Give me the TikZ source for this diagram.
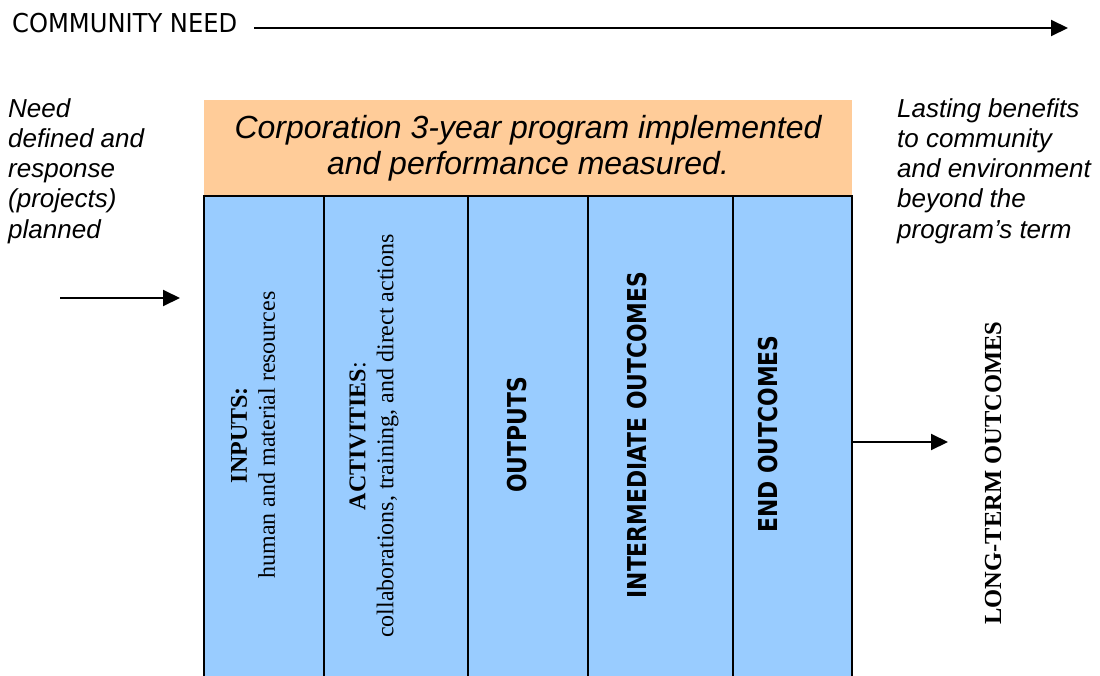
\documentclass[tikz,border=0pt]{standalone}
\usepackage{fontspec}
\setmainfont{Liberation Serif}
\setsansfont{Liberation Sans}
\newfontfamily\tahoma[FakeStretch=0.93]{DejaVu Sans}
\newfontfamily\tahomab[FakeStretch=0.84,BoldFont={DejaVu Sans Bold}]{DejaVu Sans}
\usetikzlibrary{arrows.meta}
\definecolor{hdrorange}{HTML}{FFCC99}
\definecolor{colblue}{HTML}{99CCFF}

\begin{document}
\begin{tikzpicture}[x=1pt,y=-1pt,
    col/.style={draw=black,line width=2pt,fill=colblue,minimum height=490,inner sep=0,outer sep=0,anchor=north west},
    coltxt/.style={rotate=90,align=center,inner sep=0,font=\fontsize{24}{28}\selectfont},
    boldtxt/.style={rotate=90,inner sep=0,font=\tahomab\bfseries\fontsize{26}{30}\selectfont},
    side/.style={anchor=north west,align=left,inner sep=0,font=\sffamily\itshape\fontsize{26}{30.3}\selectfont},
    arr/.style={line width=2pt,-{Triangle[length=17pt,width=16pt]}}]
        \path[use as bounding box] (0,0) rectangle (1100,675);

        \node [anchor=base west,inner sep=0,font=\tahoma\fontsize{26}{30}\selectfont] (need) at (12,32) {COMMUNITY NEED};
        \coordinate (needend) at (1068,28);
        \draw[arr] ([shift={(17,-4)}]need.base east) -- (needend);

        \node [fill=hdrorange,minimum width=648,minimum height=96,inner sep=0,outer sep=0,align=center,
               font=\sffamily\itshape\fontsize{32}{36}\selectfont] (prog) at (528,148)
               {Corporation 3-year program implemented\\and performance measured.};

        \node [col,minimum width=120] (inputs) at (204,196) {};
        \node [col,minimum width=144] (activities) at (inputs.north east) {};
        \node [col,minimum width=120] (outputs) at (activities.north east) {};
        \node [col,minimum width=145] (interout) at (outputs.north east) {};
        \node [col,minimum width=119] (endout) at (interout.north east) {};

        \node [coltxt] (inputstxt) at (253,435) {\textbf{INPUTS:}\\human and material resources};
        \node [coltxt] (activitiestxt) at (374,436) {\textbf{ACTIVITIES}:\\collaborations, training, and direct actions};
        \node [boldtxt] (outputstxt) at (517,435) {OUTPUTS};
        \node [boldtxt] (interouttxt) at (637,435) {INTERMEDIATE OUTCOMES};
        \node [boldtxt] (endouttxt) at (768,434) {END OUTCOMES};
        \node [rotate=90,inner sep=0,font=\bfseries\fontsize{24.5}{28}\selectfont] (longterm) at (993,473) {LONG-TERM OUTCOMES};

        \node [side] (defined) at (8,98) {Need\\defined and\\response\\(projects)\\planned};
        \node [side] (benefits) at (897,98) {Lasting benefits\\to community\\and environment\\beyond the\\program’s term};

        \coordinate (instart) at (60,298);
        \coordinate (inend) at (180,298);
        \draw[arr] (instart) -- (inend);
        \coordinate (outend) at (948,442);
        \draw[arr] (endout.east |- outend) -- (outend);
\end{tikzpicture}
\end{document}
